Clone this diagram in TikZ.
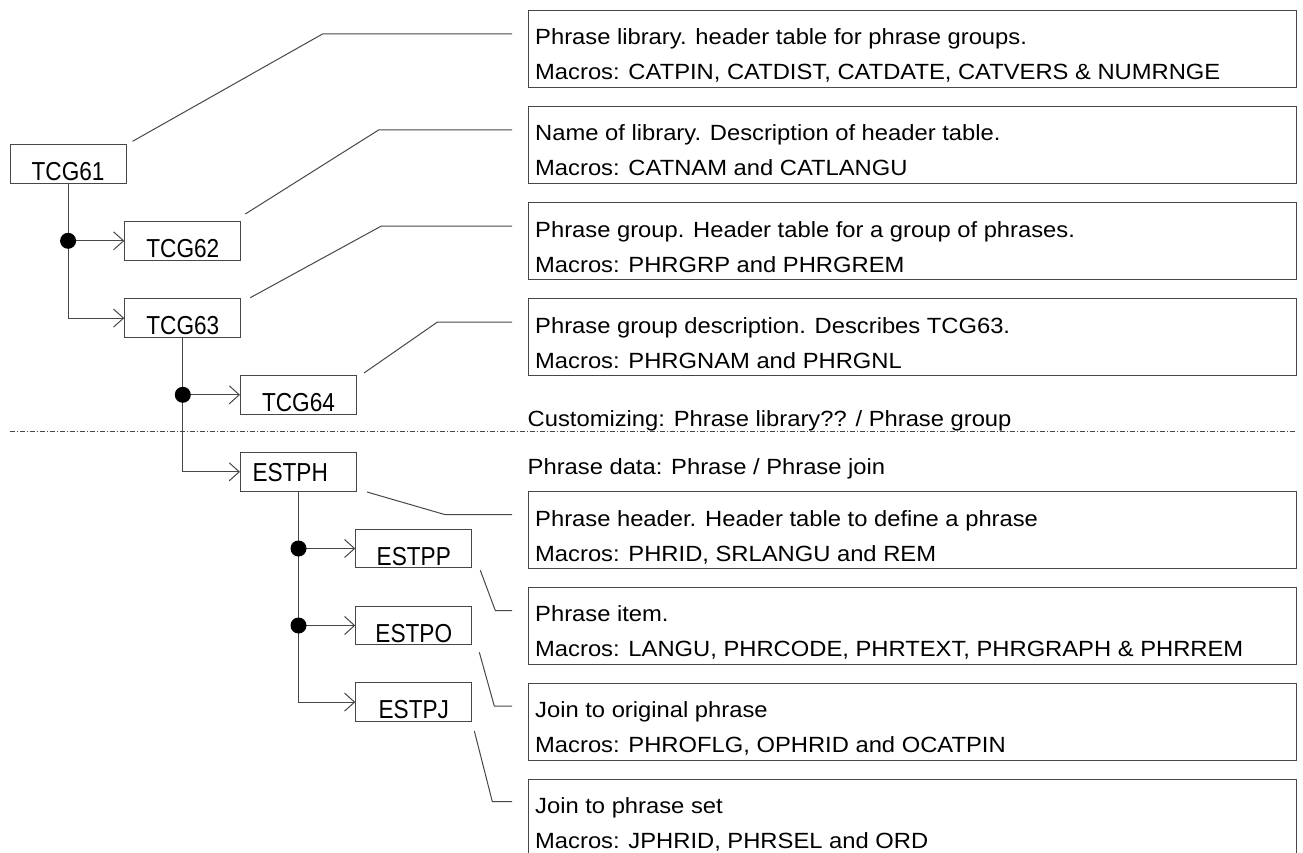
\documentclass[tikz,border=0pt]{standalone}
\usepackage{fontspec}
\setmainfont{Liberation Sans}
\newfontfamily\descfont[FakeStretch=1.08]{Liberation Sans}
\newfontfamily\tabfont[FakeStretch=0.87]{Liberation Sans}
\usetikzlibrary{arrows.meta,calc}
\colorlet{linecol}{black!72}
\begin{document}
\begin{tikzpicture}[x=1pt,y=-1pt,
  tbl/.style={draw=linecol, line width=1pt, minimum width=116pt, inner xsep=0pt, inner ysep=0pt,
    text height=36pt, text depth=2.6pt, font=\tabfont\fontsize{26}{30}\selectfont, anchor=north west},
  tblleft/.style={tbl, text width=92pt, align=left, inner xsep=12pt, text height=29pt, text depth=9.6pt},
  rbox/.style={draw=linecol, line width=1pt, minimum width=768pt, minimum height=77pt, inner sep=0pt, anchor=north west},
  desc/.style={anchor=base west, inner sep=0pt, font=\descfont\fontsize{22}{26}\selectfont},
  conn/.style={draw=linecol, line width=1pt, -{Straight Barb[length=10pt,width=18pt]}},
  lead/.style={draw=linecol, line width=1pt},
  sepline/.style={draw=linecol, line width=0.8pt, dash pattern=on 5pt off 2pt on 1pt off 2pt},
  dot/.style={fill=black}
]
\useasboundingbox (0,0) rectangle (1303,853);
\fill[white] (0,0) rectangle (1303,853);

% left tables
\node[tbl] (TCG61) at (9.6,144.3) {TCG61};
\node[tbl] (TCG62) at (124.3,221) {TCG62};
\node[tbl] (TCG63) at (124.3,298.3) {TCG63};
\node[tbl] (TCG64) at (240,375) {TCG64};
\node[tblleft] (ESTPH) at (240,452) {ESTPH};
\node[tbl] (ESTPP) at (355.3,528.7) {ESTPP};
\node[tbl] (ESTPO) at (355.3,605.7) {ESTPO};
\node[tbl] (ESTPJ) at (355.3,682.3) {ESTPJ};

% right description boxes
\node[rbox] (R1) at (528,10) {};
\node[rbox] (R2) at (528,106) {};
\node[rbox] (R3) at (528,202) {};
\node[rbox] (R4) at (528,298) {};
\node[rbox] (R5) at (528,491) {};
\node[rbox] (R6) at (528,586.5) {};
\node[rbox] (R7) at (528,682.5) {};
\node[rbox] (R8) at (528,778.5) {};

\node[desc] (R1a) at ($(R1.north west)+(7,35)$) {Phrase library. header table for phrase groups.};
\node[desc] (R1b) at ($(R1.north west)+(7,70)$) {Macros: CATPIN, CATDIST, CATDATE, CATVERS \& NUMRNGE};
\node[desc] (R2a) at ($(R2.north west)+(7,35)$) {Name of library. Description of header table.};
\node[desc] (R2b) at ($(R2.north west)+(7,70)$) {Macros: CATNAM and CATLANGU};
\node[desc] (R3a) at ($(R3.north west)+(7,35)$) {Phrase group. Header table for a group of phrases.};
\node[desc] (R3b) at ($(R3.north west)+(7,70)$) {Macros: PHRGRP and PHRGREM};
\node[desc] (R4a) at ($(R4.north west)+(7,35)$) {Phrase group description. Describes TCG63.};
\node[desc] (R4b) at ($(R4.north west)+(7,70)$) {Macros: PHRGNAM and PHRGNL};
\node[desc] (R5a) at ($(R5.north west)+(7,35)$) {Phrase header. Header table to define a phrase};
\node[desc] (R5b) at ($(R5.north west)+(7,70)$) {Macros: PHRID, SRLANGU and REM};
\node[desc] (R6a) at ($(R6.north west)+(7,35)$) {Phrase item.};
\node[desc] (R6b) at ($(R6.north west)+(7,70)$) {Macros: LANGU, PHRCODE, PHRTEXT, PHRGRAPH \& PHRREM};
\node[desc] (R7a) at ($(R7.north west)+(7,35)$) {Join to original phrase};
\node[desc] (R7b) at ($(R7.north west)+(7,70)$) {Macros: PHROFLG, OPHRID and OCATPIN};
\node[desc] (R8a) at ($(R8.north west)+(7,35)$) {Join to phrase set};
\node[desc] (R8b) at ($(R8.north west)+(7,70)$) {Macros: JPHRID, PHRSEL and ORD};

% separator
\coordinate (s1) at (9.6,431.7);
\coordinate (s2) at (1296,431.7);
\draw[sepline] (s1) -- (s2);
\node[desc] (cust) at (527.5,426) {Customizing: Phrase library?? / Phrase group};
\node[desc] (pdata) at (527.5,474) {Phrase data: Phrase / Phrase join};

% tree connectors
\coordinate (d1) at (TCG61.south |- TCG62.west);
\coordinate (d2) at (TCG63.south |- TCG64.west);
\coordinate (d3) at (ESTPH.south |- ESTPP.west);
\coordinate (d4) at (ESTPH.south |- ESTPO.west);
\draw[conn] (TCG61.south) |- (TCG63.west);
\draw[conn] (d1) -- (TCG62.west);
\draw[conn] (TCG63.south) |- (ESTPH.west);
\draw[conn] (d2) -- (TCG64.west);
\draw[conn] (ESTPH.south) |- (ESTPJ.west);
\draw[conn] (d3) -- (ESTPP.west);
\draw[conn] (d4) -- (ESTPO.west);
\foreach \d in {d1,d2,d3,d4} \fill[dot] (\d) circle (8pt);

% leader lines
\draw[lead] ($(TCG61.north east)+(6,-3)$) -- ($(R1.north west)+(-205.5,24)$) -- ($(R1.north west)+(-16,24)$);
\draw[lead] ($(TCG62.north east)+(4,-7)$) -- ($(R2.north west)+(-149.4,24)$) -- ($(R2.north west)+(-16,24)$);
\draw[lead] ($(TCG63.north east)+(9,-0.6)$) -- ($(R3.north west)+(-146.6,24)$) -- ($(R3.north west)+(-16,24)$);
\draw[lead] ($(TCG64.north east)+(7,-2)$) -- ($(R4.north west)+(-90.5,24)$) -- ($(R4.north west)+(-16,24)$);
\draw[lead] ($(ESTPH.south east)+(10,0.4)$) -- ($(R5.north west)+(-83.4,23.5)$) -- ($(R5.north west)+(-16,23.5)$);
\draw[lead] ($(ESTPP.south east)+(8,2)$) -- ($(R6.north west)+(-32.7,24)$) -- ($(R6.north west)+(-16,24)$);
\draw[lead] ($(ESTPO.south east)+(7,7)$) -- ($(R7.north west)+(-33.7,23.5)$) -- ($(R7.north west)+(-16,23.5)$);
\draw[lead] ($(ESTPJ.south east)+(2,9)$) -- ($(R8.north west)+(-35.7,23)$) -- ($(R8.north west)+(-16,23)$);
\end{tikzpicture}
\end{document}
